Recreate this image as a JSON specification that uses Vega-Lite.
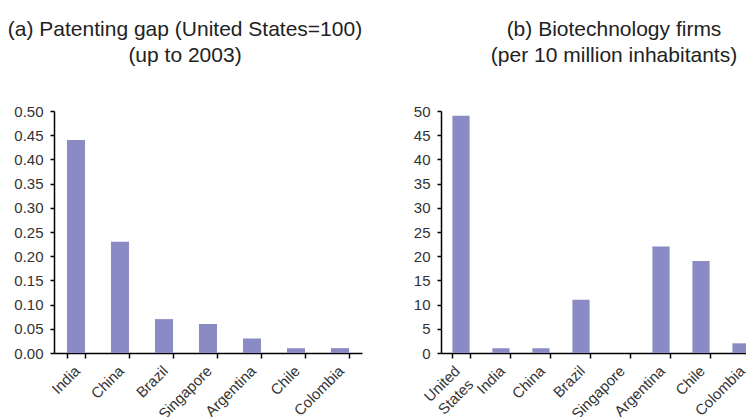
{
  "$schema": "https://vega.github.io/schema/vega-lite/v6.json",
  "background": "white",
  "padding": {"left": 7, "top": 19, "right": 0, "bottom": 0},
  "spacing": 50,
  "config": {
    "view": {"stroke": null},
    "font": "Liberation Sans",
    "title": {"fontSize": 21, "fontWeight": "normal", "color": "#222222", "lineHeight": 26, "anchor": "middle", "frame": "group", "offset": 38},
    "axis": {
      "domainColor": "#000000",
      "domainWidth": 1.5,
      "tickColor": "#000000",
      "tickWidth": 1.5,
      "labelFontSize": 15,
      "labelColor": "#333333",
      "labelFont": "Liberation Sans",
      "grid": false,
      "title": null
    },
    "axisX": {"tickSize": 5, "labelAngle": -45, "labelAlign": "right", "labelBaseline": "top", "tickBand": "extent", "labelPadding": 5, "labelOffset": -4, "labelLineHeight": 19},
    "axisY": {"tickSize": 4, "labelPadding": 7}
  },
  "hconcat": [
    {
      "title": {"text": ["(a) Patenting gap (United States=100)", "(up to 2003)"], "dx": -23},
      "width": 308,
      "height": 242,
      "data": {"values": [
        {"country": "India", "value": 0.44},
        {"country": "China", "value": 0.23},
        {"country": "Brazil", "value": 0.07},
        {"country": "Singapore", "value": 0.06},
        {"country": "Argentina", "value": 0.03},
        {"country": "Chile", "value": 0.01},
        {"country": "Colombia", "value": 0.01}
      ]},
      "mark": {"type": "bar", "color": "#8a8bc4"},
      "encoding": {
        "x": {"field": "country", "type": "nominal", "sort": null,
              "scale": {"paddingInner": 0.59, "paddingOuter": 0.295},
              "axis": {}},
        "y": {"field": "value", "type": "quantitative",
              "scale": {"domain": [0, 0.5], "nice": false},
              "axis": {"values": [0, 0.05, 0.1, 0.15, 0.2, 0.25, 0.3, 0.35, 0.4, 0.45, 0.5], "format": ".2f"}}
      }
    },
    {
      "title": {"text": ["(b) Biotechnology firms", "(per 10 million inhabitants)"], "dx": 13},
      "width": 320,
      "height": 242,
      "data": {"values": [
        {"country": "United States", "value": 49},
        {"country": "India", "value": 1},
        {"country": "China", "value": 1},
        {"country": "Brazil", "value": 11},
        {"country": "Singapore", "value": 0},
        {"country": "Argentina", "value": 22},
        {"country": "Chile", "value": 19},
        {"country": "Colombia", "value": 2}
      ]},
      "mark": {"type": "bar", "color": "#8a8bc4"},
      "encoding": {
        "x": {"field": "country", "type": "nominal", "sort": null,
              "scale": {"paddingInner": 0.57, "paddingOuter": 0.285},
              "axis": {
                "labelExpr": "datum.label == 'United States' ? ['United', 'States'] : datum.label",
                "labelOffset": {"condition": {"test": "datum.value == 'United States'", "value": -9}, "value": -4}
              }},
        "y": {"field": "value", "type": "quantitative",
              "scale": {"domain": [0, 50], "nice": false},
              "axis": {"values": [0, 5, 10, 15, 20, 25, 30, 35, 40, 45, 50]}}
      }
    }
  ]
}
